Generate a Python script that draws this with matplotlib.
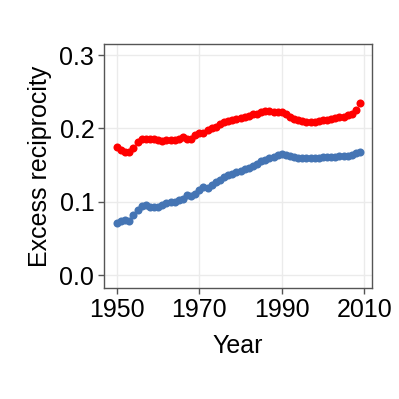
import matplotlib
matplotlib.use("Agg")
import matplotlib.pyplot as plt
import numpy as np

years = list(range(1950, 2010))
red = [0.175, 0.170, 0.168, 0.168, 0.173, 0.182, 0.185, 0.186, 0.186, 0.185,
       0.184, 0.183, 0.184, 0.184, 0.184, 0.185, 0.188, 0.186, 0.186, 0.191,
       0.193, 0.194, 0.198, 0.200, 0.202, 0.206, 0.209, 0.210, 0.212, 0.213,
       0.214, 0.216, 0.217, 0.219, 0.220, 0.222, 0.223, 0.223, 0.222, 0.222,
       0.222, 0.219, 0.216, 0.213, 0.211, 0.210, 0.209, 0.209, 0.209, 0.210,
       0.211, 0.212, 0.213, 0.214, 0.215, 0.216, 0.218, 0.220, 0.225, 0.234]
blue = [0.071, 0.073, 0.075, 0.073, 0.082, 0.089, 0.094, 0.095, 0.093, 0.093,
        0.093, 0.095, 0.098, 0.099, 0.100, 0.102, 0.104, 0.109, 0.108, 0.111,
        0.116, 0.120, 0.118, 0.123, 0.127, 0.130, 0.133, 0.136, 0.138, 0.140,
        0.142, 0.144, 0.146, 0.149, 0.152, 0.155, 0.157, 0.159, 0.161, 0.164,
        0.165, 0.164, 0.162, 0.161, 0.160, 0.160, 0.160, 0.160, 0.160, 0.160,
        0.161, 0.161, 0.161, 0.161, 0.162, 0.162, 0.162, 0.163, 0.166, 0.168]
xticks = [1950, 1970, 1990, 2010]
yticks = [0.0, 0.1, 0.2, 0.3]

plt.rcParams['font.family'] = ['Liberation Sans', 'DejaVu Sans']
fig = plt.figure(figsize=(3.99, 3.99), dpi=100)
ax = fig.add_axes([104/399, 1-288/399, (372-104)/399, (288-44)/399])
ax.plot(years, red, 'o', color='#ff0000', ms=5.8, mec='none', zorder=3)
ax.plot(years, blue, 'o', color='#4575b4', ms=5.8, mec='none', zorder=3)
ax.set_xlim(1946.85, 2011.9)
ax.set_ylim(-0.0177, 0.315)
ax.set_xticks(xticks)
ax.set_yticks(yticks)
ax.set_yticklabels([f"{v:.1f}" for v in yticks])
ax.grid(True, color='#ebebeb', lw=1.0, zorder=0)
ax.set_axisbelow(True)
for s in ax.spines.values():
    s.set_color('#555555')
    s.set_linewidth(1.0)
ax.tick_params(direction='out', length=4, width=1, color='#555555',
               labelsize=18, labelcolor='black', pad=3)
ax.set_xlabel('Year', fontsize=18, labelpad=9)
ax.set_ylabel('Excess reciprocity', fontsize=18, labelpad=5)
fig.savefig('out.png', dpi=100)
